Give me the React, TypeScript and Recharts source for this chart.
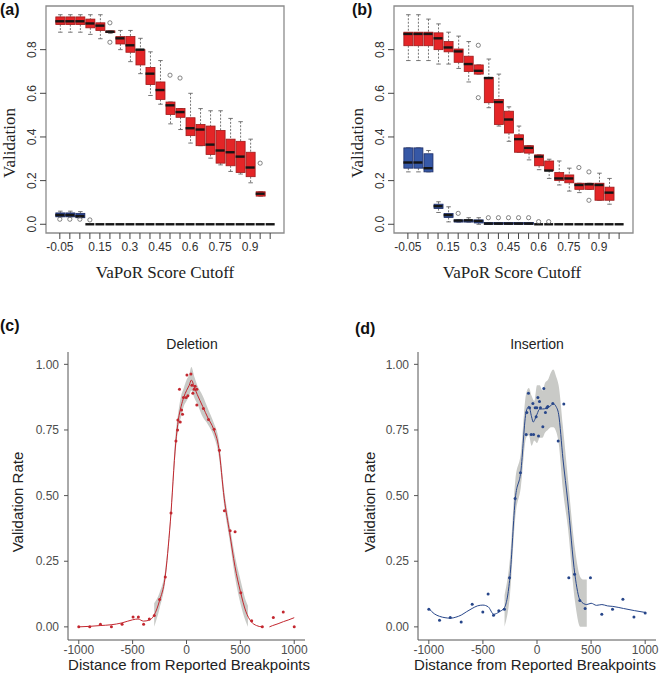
import React from 'react';
import { ComposedChart, Bar, Scatter, Line, Area, XAxis, YAxis, ReferenceArea } from 'recharts';

// ---- panels (a) / (b): validation by VaPoR score cutoff ----
const CUTOFFS = ['-0.05', '0', '0.05', '0.1', '0.15', '0.2', '0.25', '0.3', '0.35', '0.4', '0.45',
    '0.5', '0.55', '0.6', '0.65', '0.7', '0.75', '0.8', '0.85', '0.9', '0.95', '1'];
const SHOWN = ['-0.05', '0.15', '0.3', '0.45', '0.6', '0.75', '0.9'];
const BOX_TICKS = [0, 0.2, 0.4, 0.6, 0.8];

// [lower whisker, q1, median, q3, upper whisker]
const A_RED = [
    [0.88, 0.915, 0.93, 0.95, 0.96], [0.88, 0.915, 0.93, 0.95, 0.96], [0.88, 0.915, 0.93, 0.95, 0.96],
    [0.87, 0.90, 0.92, 0.94, 0.96], [0.85, 0.888, 0.91, 0.923, 0.96], [0.875, 0.878, 0.882, 0.886, 0.886],
    [0.80, 0.826, 0.852, 0.86, 0.888], [0.745, 0.788, 0.82, 0.86, 0.888], [0.69, 0.73, 0.80, 0.80, 0.852],
    [0.59, 0.64, 0.69, 0.718, 0.79], [0.55, 0.572, 0.615, 0.652, 0.75], [0.46, 0.503, 0.545, 0.56, 0.56],
    [0.434, 0.49, 0.514, 0.53, 0.53], [0.372, 0.406, 0.44, 0.488, 0.60], [0.36, 0.36, 0.434, 0.457, 0.53],
    [0.303, 0.32, 0.365, 0.45, 0.52], [0.272, 0.28, 0.338, 0.43, 0.52], [0.242, 0.268, 0.33, 0.39, 0.485],
    [0.23, 0.237, 0.31, 0.38, 0.47], [0.19, 0.218, 0.26, 0.33, 0.39], [0.129, 0.129, 0.14, 0.149, 0.149],
];
const A_BLUE = [
    [0.034, 0.034, 0.042, 0.052, 0.06], [0.034, 0.034, 0.042, 0.052, 0.06], [0.03, 0.03, 0.037, 0.05, 0.058],
    [0, 0, 0, 0, 0], [0, 0, 0, 0, 0], [0, 0, 0, 0, 0], [0, 0, 0, 0, 0], [0, 0, 0, 0, 0], [0, 0, 0, 0, 0],
    [0, 0, 0, 0, 0], [0, 0, 0, 0, 0], [0, 0, 0, 0, 0], [0, 0, 0, 0, 0], [0, 0, 0, 0, 0], [0, 0, 0, 0, 0],
    [0, 0, 0, 0, 0], [0, 0, 0, 0, 0], [0, 0, 0, 0, 0], [0, 0, 0, 0, 0], [0, 0, 0, 0, 0], [0, 0, 0, 0, 0],
    [0, 0, 0, 0, 0],
];
const A_RED_OUT: [string, number][] = [['0.2', 0.923], ['0.2', 0.834], ['0.5', 0.683], ['0.55', 0.67], ['0.95', 0.28]];
const A_BLUE_OUT: [string, number][] = [['-0.05', 0.023], ['0', 0.023], ['0.05', 0.023], ['0.1', 0.02]];

const B_RED = [
    [0.75, 0.818, 0.872, 0.88, 0.96], [0.75, 0.818, 0.872, 0.88, 0.96], [0.75, 0.818, 0.872, 0.88, 0.94],
    [0.734, 0.80, 0.852, 0.877, 0.918], [0.734, 0.79, 0.81, 0.837, 0.88], [0.714, 0.742, 0.792, 0.803, 0.862],
    [0.652, 0.70, 0.734, 0.77, 0.837], [0.688, 0.688, 0.703, 0.73, 0.73], [0.534, 0.557, 0.67, 0.672, 0.757],
    [0.45, 0.457, 0.56, 0.572, 0.688], [0.38, 0.418, 0.48, 0.518, 0.538], [0.33, 0.33, 0.39, 0.41, 0.45],
    [0.295, 0.326, 0.35, 0.36, 0.36], [0.25, 0.268, 0.31, 0.318, 0.318], [0.21, 0.246, 0.246, 0.29, 0.298],
    [0.18, 0.20, 0.21, 0.237, 0.29], [0.152, 0.19, 0.21, 0.226, 0.257], [0.145, 0.16, 0.18, 0.188, 0.188],
    [0.16, 0.16, 0.183, 0.188, 0.188], [0.11, 0.11, 0.18, 0.188, 0.234], [0.092, 0.11, 0.145, 0.17, 0.21],
];
const B_BLUE = [
    [0.24, 0.257, 0.283, 0.35, 0.35], [0.24, 0.257, 0.283, 0.35, 0.35], [0.24, 0.24, 0.257, 0.323, 0.338],
    [0.054, 0.072, 0.083, 0.092, 0.103], [0.011, 0.031, 0.042, 0.049, 0.08], [0.01, 0.01, 0.017, 0.02, 0.02],
    [0.01, 0.01, 0.018, 0.02, 0.03], [0.0, 0.006, 0.015, 0.02, 0.03], [0, 0, 0.003, 0.008, 0.008],
    [0, 0, 0.003, 0.008, 0.008], [0, 0, 0.003, 0.008, 0.008], [0, 0, 0.003, 0.008, 0.008],
    [0, 0, 0.003, 0.008, 0.008], [0, 0, 0, 0, 0], [0, 0, 0, 0, 0], [0, 0, 0, 0, 0], [0, 0, 0, 0, 0],
    [0, 0, 0, 0, 0], [0, 0, 0, 0, 0], [0, 0, 0, 0, 0], [0, 0, 0, 0, 0], [0, 0, 0, 0, 0],
];
const B_RED_OUT: [string, number][] = [['0.3', 0.82], ['0.3', 0.58], ['0.8', 0.26], ['0.85', 0.24], ['0.85', 0.11]];
const B_BLUE_OUT: [string, number][] = [['0.2', 0.05], ['0.35', 0.03], ['0.4', 0.03], ['0.45', 0.03], ['0.5', 0.03],
    ['0.55', 0.03], ['0.6', 0.012], ['0.65', 0.012]];

// ---- panels (c) / (d): validation rate vs distance ----
const DIST_TICKS = [-1000, -500, 0, 500, 1000];
const RATE_TICKS = [0, 0.25, 0.5, 0.75, 1];

const C_PTS_X = [-1000, -898, -799, -697, -598, -496, -447, -398, -345, -299, -250, -197, -144, -98, -83, -80, -58,
    -46, -37, -65, -28, -3, 13, 4, 41, 50, 59, 71, 80, 96, 96, 157, 204, 256, 306, 352, 405, 451, 504, 605, 704, 806, 898, 1000];
const C_PTS_Y = [0, 0, 0.01, 0, 0.01, 0.038, 0.038, 0.01, 0.03, 0.043, 0.104, 0.19, 0.434, 0.708, 0.75, 0.788, 0.78,
    0.826, 0.81, 0.905, 0.874, 0.874, 0.88, 0.959, 0.963, 0.92, 0.89, 0.905, 0.917, 0.905, 0.845, 0.832, 0.79, 0.753,
    0.673, 0.442, 0.366, 0.362, 0.13, 0.023, 0, 0.036, 0.057, 0];
const C_LINE_X = [-1000, -900, -800, -700, -600, -500, -450, -400, -350, -300, -250, -200, -150, -100, -75, -50, -25,
    0, 25, 45, 75, 100, 150, 200, 250, 300, 350, 400, 450, 500, 550, 600, 650, 700, 735, 770, 800, 850, 900, 950, 1000];
const C_LINE_Y = [0, 0.002, 0.005, 0.008, 0.015, 0.027, 0.03, 0.022, 0.025, 0.045, 0.10, 0.185, 0.40, 0.70, 0.79,
    0.84, 0.875, 0.90, 0.92, 0.94, 0.91, 0.885, 0.84, 0.795, 0.755, 0.68, 0.49, 0.36, 0.23, 0.135, 0.06, 0.02, 0.005,
    0, null, 0, 0.005, 0.012, 0.02, 0.027, 0.035];
const C_BAND_X = [-300, -250, -200, -150, -100, -75, -50, -25, 0, 25, 45, 75, 100, 150, 200, 250, 300, 350, 400, 450,
    500, 550, 570];
const C_BAND_LO = [0.0, 0.07, 0.165, 0.38, 0.67, 0.76, 0.80, 0.84, 0.86, 0.88, 0.90, 0.87, 0.85, 0.80, 0.77, 0.73,
    0.65, 0.46, 0.33, 0.19, 0.09, 0.02, 0.0];
const C_BAND_HI = [0.09, 0.13, 0.21, 0.42, 0.74, 0.82, 0.88, 0.91, 0.94, 0.96, 0.99, 0.95, 0.92, 0.88, 0.83, 0.78,
    0.71, 0.52, 0.39, 0.27, 0.18, 0.10, 0.08];

const D_PTS_X = [-1000, -901, -802, -701, -599, -501, -452, -402, -353, -301, -254, -202, -153, -100, -94, -79, -69,
    -54, -32, -38, -17, -8, -2, 8, 14, 23, 32, 54, 63, 78, 91, 100, 146, 248, 196, 294, 347, 396, 445, 494, 599, 698,
    794, 896, 1000];
const D_PTS_Y = [0.067, 0.025, 0.036, 0.019, 0.086, 0.057, 0.125, 0.044, 0.061, 0.067, 0.187, 0.489, 0.587, 0.733,
    0.817, 0.89, 0.835, 0.733, 0.733, 0.851, 0.835, 0.80, 0.835, 0.874, 0.727, 0.858, 0.835, 0.762, 0.908, 0.817,
    0.835, 0.839, 0.851, 0.849, 0.708, 0.187, 0.2, 0.10, 0.07, 0.187, 0.048, 0.067, 0.105, 0.038, 0.053];
const D_LINE_X = [-1000, -950, -900, -850, -800, -750, -700, -650, -600, -550, -500, -450, -400, -350, -300, -250,
    -200, -150, -100, -75, -50, -35, -20, 0, 25, 50, 85, 120, 150, 175, 200, 240, 285, 350, 400, 460, 500, 550, 600,
    650, 700, 800, 900, 1000];
const D_LINE_Y = [0.07, 0.05, 0.04, 0.035, 0.033, 0.037, 0.045, 0.058, 0.07, 0.08, 0.083, 0.076, 0.048, 0.057,
    0.074, 0.19, 0.49, 0.59, 0.82, 0.84, 0.80, 0.78, 0.79, 0.81, 0.83, 0.83, 0.832, 0.84, 0.85, 0.84, 0.81, 0.64,
    0.476, 0.20, 0.10, 0.085, 0.09, 0.082, 0.085, 0.08, 0.078, 0.07, 0.062, 0.055];
const D_BAND_X = [-300, -250, -200, -150, -100, -75, -50, -25, 0, 25, 50, 75, 100, 130, 150, 180, 200, 240, 285,
    350, 400, 430, 460];
const D_BAND_LO = [0.0, 0.12, 0.42, 0.53, 0.72, 0.73, 0.69, 0.71, 0.70, 0.72, 0.72, 0.74, 0.75, 0.76, 0.76, 0.74,
    0.70, 0.52, 0.38, 0.10, 0.0, 0.0, 0.0];
const D_BAND_HI = [0.12, 0.26, 0.56, 0.66, 0.89, 0.91, 0.88, 0.86, 0.92, 0.92, 0.90, 0.93, 0.94, 0.97, 0.98, 0.95,
    0.92, 0.76, 0.57, 0.30, 0.19, 0.18, 0.18];

const IDX = CUTOFFS.map((_, i) => i + 1);
const X_DOM: [number, number] = [-0.38, 23.38];
const Y_DOM: [number, number] = [-0.04, 1.0];

// whiskers + box drawn inside the range bar (lower whisker .. upper whisker)
const BoxShape = (props: any) => {
    const { x, y, width, height, payload, k, color, edge } = props;
    const s = payload && payload[k];
    if (!s || !isFinite(y) || !isFinite(height)) return null;
    const span = s[4] - s[0];
    if (span <= 0) return null;
    const top = Math.min(y, y + height);
    const h = Math.abs(height);
    const py = (v: number) => top + ((s[4] - v) / span) * h;
    const cx = x + width / 2;
    const cap = width / 4;
    const wh = { stroke: '#666', strokeWidth: 0.9 };
    return (
        <g>
            <line x1={cx} x2={cx} y1={py(s[4])} y2={py(s[3])} {...wh} strokeDasharray="2 1.5" />
            <line x1={cx} x2={cx} y1={py(s[1])} y2={py(s[0])} {...wh} strokeDasharray="2 1.5" />
            <line x1={cx - cap} x2={cx + cap} y1={py(s[4])} y2={py(s[4])} {...wh} />
            <line x1={cx - cap} x2={cx + cap} y1={py(s[0])} y2={py(s[0])} {...wh} />
            <rect x={x} y={py(s[3])} width={width} height={Math.max(py(s[1]) - py(s[3]), 0.6)}
                fill={color} stroke={edge} strokeWidth={0.8} />
        </g>
    );
};

const RotTick = (props: any) => {
    const { x, y, payload } = props;
    return (
        <text x={x} y={y} transform={`rotate(-90, ${x}, ${y})`} textAnchor="middle" fontSize={12} fill="#333">
            {Number(payload.value).toFixed(1)}
        </text>
    );
};

const medShape = (p: any) => (
    <line x1={p.cx - 4.5} x2={p.cx + 4.5} y1={p.cy} y2={p.cy} stroke="#151515" strokeWidth={2.4} />
);
const outShape = (p: any) => (
    <circle cx={p.cx} cy={p.cy} r={2.1} fill="none" stroke="#666" strokeWidth={0.8} />
);

interface BoxPanelProps {
    red: number[][];
    blue: number[][];
    redOut: [string, number][];
    blueOut: [string, number][];
    blueFill: string;
    yW: number;
    mr: number;
}

const BoxPanel: React.FC<BoxPanelProps> = ({ red, blue, redOut, blueOut, blueFill, yW, mr }) => {
    const rows = CUTOFFS.map((c, i) => ({ idx: i + 1, red: red[i] || null, blue: blue[i] || null }));
    const redMed = rows.filter(r => r.red).map(r => ({ idx: r.idx, v: r.red![2] }));
    const blueMed = rows.filter(r => r.blue).map(r => ({ idx: r.idx, v: r.blue![2] }));
    const toPts = (o: [string, number][]) => o.map(([c, v]) => ({ idx: CUTOFFS.indexOf(c) + 1, v }));

    return (
        <ComposedChart width={330} height={300} data={rows} margin={{ top: 6, right: mr, bottom: 0, left: 0 }}>
            <XAxis xAxisId="a" dataKey="idx" type="number" domain={X_DOM} ticks={IDX} interval={0} height={67}
                axisLine={false} tickSize={6} tickMargin={3} tickLine={{ stroke: '#444' }}
                tick={{ fontSize: 12, fill: '#333' }}
                tickFormatter={(v: number) => (SHOWN.includes(CUTOFFS[v - 1]) ? CUTOFFS[v - 1] : '')} />
            <XAxis xAxisId="b" dataKey="idx" type="number" domain={X_DOM} ticks={IDX} hide />
            <YAxis type="number" domain={Y_DOM} ticks={BOX_TICKS} width={yW} axisLine={false}
                tickSize={6} tickMargin={4} tickLine={{ stroke: '#444' }} tick={<RotTick />} />
            <ReferenceArea xAxisId="a" x1={X_DOM[0]} x2={X_DOM[1]} y1={Y_DOM[0]} y2={Y_DOM[1]}
                fill="none" stroke="#8c8c8c" strokeWidth={1.3} />
            <Bar xAxisId="a" dataKey={(d: any) => (d.red ? [d.red[0], d.red[4]] : null)} barSize={9}
                shape={(p: any) => <BoxShape {...p} k="red" color="#e42527" edge="#9e1a1a" />}
                isAnimationActive={false} />
            <Bar xAxisId="b" dataKey={(d: any) => (d.blue ? [d.blue[0], d.blue[4]] : null)} barSize={9}
                shape={(p: any) => <BoxShape {...p} k="blue" color={blueFill} edge="#1d2d66" />}
                isAnimationActive={false} />
            <Scatter xAxisId="a" data={redMed} dataKey="v" shape={medShape} isAnimationActive={false} />
            <Scatter xAxisId="a" data={blueMed} dataKey="v" shape={medShape} isAnimationActive={false} />
            <Scatter xAxisId="a" data={toPts(redOut)} dataKey="v" shape={outShape} isAnimationActive={false} />
            <Scatter xAxisId="a" data={toPts(blueOut)} dataKey="v" shape={outShape} isAnimationActive={false} />
        </ComposedChart>
    );
};

interface CurvePanelProps {
    ptsX: number[];
    ptsY: number[];
    lineX: number[];
    lineY: (number | null)[];
    bandX: number[];
    bandLo: number[];
    bandHi: number[];
    color: string;
    yW: number;
    mr: number;
}

const CurvePanel: React.FC<CurvePanelProps> = ({ ptsX, ptsY, lineX, lineY, bandX, bandLo, bandHi, color, yW, mr }) => {
    const pts = ptsX.map((x, i) => ({ x, y: ptsY[i] }));
    const line = lineX.map((x, i) => ({ x, y: lineY[i] }));
    const band = bandX.map((x, i) => ({ x, r: [bandLo[i], bandHi[i]] }));
    const tickStyle = { fontSize: 12, fill: '#4d4d4d' };

    return (
        <ComposedChart width={330} height={368} margin={{ top: 42, right: mr, bottom: 0, left: 0 }}>
            <XAxis dataKey="x" type="number" domain={[-1100, 1100]} ticks={DIST_TICKS} interval={0} height={38}
                stroke="#555" tickSize={4} tickMargin={1} tick={tickStyle} />
            <YAxis type="number" domain={[-0.05, 1.047]} ticks={RATE_TICKS} width={yW} stroke="#555"
                tickSize={4} tickMargin={5} tick={tickStyle} tickFormatter={(v: number) => v.toFixed(2)} />
            <Area data={band} dataKey="r" type="monotone" stroke="none" fill="#c9cac7" fillOpacity={1}
                isAnimationActive={false} />
            <Line data={line} dataKey="y" type="monotone" stroke={color} strokeWidth={1} dot={false}
                connectNulls={false} isAnimationActive={false} />
            <Scatter data={pts} dataKey="y" isAnimationActive={false}
                shape={(p: any) => <circle cx={p.cx} cy={p.cy} r={1.5} fill={color} />} />
        </ComposedChart>
    );
};

const serif = '"Liberation Serif", "Times New Roman", serif';

export default function App() {
    return (
        <div style={{ position: 'absolute', left: 0, top: 0, width: 660, height: 678, background: '#fff',
            fontFamily: '"Liberation Sans", Arial, sans-serif' }}>
            <div style={{ position: 'absolute', left: 0, top: 0 }}>
                <BoxPanel red={A_RED} blue={A_BLUE} redOut={A_RED_OUT} blueOut={A_BLUE_OUT} blueFill="#28408a"
                    yW={46} mr={46} />
            </div>
            <div style={{ position: 'absolute', left: 330, top: 0 }}>
                <BoxPanel red={B_RED} blue={B_BLUE} redOut={B_RED_OUT} blueOut={B_BLUE_OUT} blueFill="#3658a6"
                    yW={64} mr={27} />
            </div>
            <div style={{ position: 'absolute', left: 0, top: 310 }}>
                <CurvePanel ptsX={C_PTS_X} ptsY={C_PTS_Y} lineX={C_LINE_X} lineY={C_LINE_Y} bandX={C_BAND_X}
                    bandLo={C_BAND_LO} bandHi={C_BAND_HI} color="#c3272f" yW={68} mr={25} />
            </div>
            <div style={{ position: 'absolute', left: 330, top: 310 }}>
                <CurvePanel ptsX={D_PTS_X} ptsY={D_PTS_Y} lineX={D_LINE_X} lineY={D_LINE_Y} bandX={D_BAND_X}
                    bandLo={D_BAND_LO} bandHi={D_BAND_HI} color="#27468a" yW={88} mr={4} />
            </div>
            <svg width={660} height={678} style={{ position: 'absolute', left: 0, top: 0, pointerEvents: 'none' }}>
                <g fontWeight="bold" fontSize={16} fill="#111">
                    <text x={0} y={15}>(a)</text>
                    <text x={352} y={15}>(b)</text>
                    <text x={0} y={331}>(c)</text>
                    <text x={355} y={334}>(d)</text>
                </g>
                <g fontFamily={serif} fontSize={17} fill="#222" textAnchor="middle" dominantBaseline="central">
                    <text x={165} y={272}>VaPoR Score Cutoff</text>
                    <text x={512} y={272}>VaPoR Score Cutoff</text>
                    <text transform="translate(9,143) rotate(-90)">Validation</text>
                    <text transform="translate(357,143) rotate(-90)">Validation</text>
                </g>
                <g fontSize={14} fill="#222" textAnchor="middle" dominantBaseline="central">
                    <text x={192} y={344}>Deletion</text>
                    <text x={537} y={344}>Insertion</text>
                </g>
                <g fontSize={15} fill="#222" textAnchor="middle" dominantBaseline="central">
                    <text x={189} y={664}>Distance from Reported Breakpoints</text>
                    <text x={535} y={664}>Distance from Reported Breakpoints</text>
                    <text transform="translate(17,502) rotate(-90)">Validation Rate</text>
                    <text transform="translate(369,502) rotate(-90)">Validation Rate</text>
                </g>
            </svg>
        </div>
    );
}
